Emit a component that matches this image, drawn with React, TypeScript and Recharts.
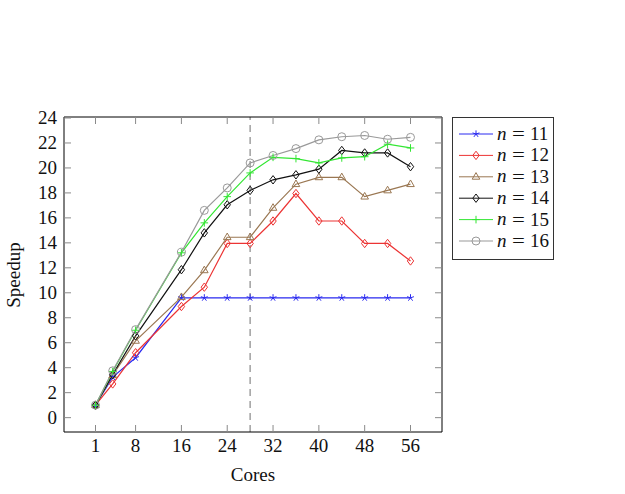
import React from 'react';
import { LineChart, Line, XAxis, YAxis, ReferenceLine } from 'recharts';

// core counts on the x axis
const cores = [1, 4, 8, 16, 20, 24, 28, 32, 36, 40, 44, 48, 52, 56];

// measured speedup per problem size n
const n11 = [1, 3.25, 4.8, 9.6, 9.6, 9.6, 9.6, 9.6, 9.6, 9.6, 9.6, 9.6, 9.6, 9.6];
const n12 = [1, 2.7, 5.2, 8.9, 10.45, 13.95, 13.95, 15.75, 17.95, 15.75, 15.75, 13.95, 13.95, 12.55];
const n13 = [1, 3.4, 6.15, 9.65, 11.8, 14.45, 14.45, 16.8, 18.7, 19.25, 19.25, 17.7, 18.2, 18.7];
const n14 = [1, 3.45, 6.55, 11.85, 14.8, 17.05, 18.2, 19.05, 19.45, 19.9, 21.4, 21.2, 21.2, 20.1];
const n15 = [1, 3.7, 7.0, 13.2, 15.6, 17.7, 19.6, 20.85, 20.75, 20.4, 20.8, 20.9, 21.9, 21.6];
const n16 = [1, 3.75, 7.05, 13.25, 16.6, 18.4, 20.4, 21.0, 21.55, 22.25, 22.5, 22.6, 22.3, 22.45];

const xTicks = [1, 8, 16, 24, 32, 40, 48, 56];
const yTicks = [0, 2, 4, 6, 8, 10, 12, 14, 16, 18, 20, 22, 24];
const xDomain: [number, number] = [-4.5, 61.5];
const yDomain: [number, number] = [-1.15, 24.08];
const splitAt = 28;

type MarkKind = 'star' | 'diamond' | 'triangle' | 'plus' | 'circle';

const series: { key: string; label: string; color: string; mark: MarkKind; values: number[] }[] = [
  { key: 'n11', label: '11', color: '#2a2af0', mark: 'star', values: n11 },
  { key: 'n12', label: '12', color: '#ec3434', mark: 'diamond', values: n12 },
  { key: 'n13', label: '13', color: '#9a7752', mark: 'triangle', values: n13 },
  { key: 'n14', label: '14', color: '#111111', mark: 'diamond', values: n14 },
  { key: 'n15', label: '15', color: '#33e633', mark: 'plus', values: n15 },
  { key: 'n16', label: '16', color: '#999999', mark: 'circle', values: n16 },
];

const data = cores.map((c, i) => {
  const row: Record<string, number> = { cores: c };
  series.forEach((s) => {
    row[s.key] = s.values[i];
  });
  return row;
});

const font = "'Liberation Serif', 'Times New Roman', serif";
const fontSize = 19;
const ink = '#111';
const tickColor = '#8a8a8a';

function Marker({ kind, cx, cy, color }: { kind: MarkKind; cx: number; cy: number; color: string }) {
  const sw = 1;
  if (kind === 'star') {
    const r = 3.6;
    const spokes = [0, 1, 2, 3, 4].map((k) => {
      const a = -Math.PI / 2 + (k * 2 * Math.PI) / 5;
      return <line key={k} x1={cx} y1={cy} x2={cx + r * Math.cos(a)} y2={cy + r * Math.sin(a)} stroke={color} strokeWidth={sw} />;
    });
    return <g>{spokes}</g>;
  }
  if (kind === 'diamond') {
    const pts = `${cx},${cy - 4.2} ${cx + 3.2},${cy} ${cx},${cy + 4.2} ${cx - 3.2},${cy}`;
    return <polygon points={pts} fill="none" stroke={color} strokeWidth={sw} />;
  }
  if (kind === 'triangle') {
    const pts = `${cx},${cy - 4.2} ${cx + 3.8},${cy + 2.4} ${cx - 3.8},${cy + 2.4}`;
    return <polygon points={pts} fill="none" stroke={color} strokeWidth={sw} />;
  }
  if (kind === 'plus') {
    return (
      <g>
        <line x1={cx - 3.8} y1={cy} x2={cx + 3.8} y2={cy} stroke={color} strokeWidth={sw} />
        <line x1={cx} y1={cy - 3.8} x2={cx} y2={cy + 3.8} stroke={color} strokeWidth={sw} />
      </g>
    );
  }
  return <circle cx={cx} cy={cy} r={4} fill="none" stroke={color} strokeWidth={sw} />;
}

const BottomTick = (props: any) => {
  const { x, y, payload } = props;
  return (
    <g>
      <line x1={x} x2={x} y1={y} y2={y - 7} stroke={tickColor} />
      <text x={x} y={y + 19.5} textAnchor="middle" fontFamily={font} fontSize={fontSize} fill={ink}>
        {payload.value}
      </text>
    </g>
  );
};

const TopTick = (props: any) => {
  const { x, y } = props;
  return <line x1={x} x2={x} y1={y} y2={y + 7} stroke={tickColor} />;
};

const LeftTick = (props: any) => {
  const { x, y, payload } = props;
  return (
    <g>
      <line x1={x} x2={x + 7} y1={y} y2={y} stroke={tickColor} />
      <text x={x - 7} y={y + 6} textAnchor="end" fontFamily={font} fontSize={fontSize} fill={ink}>
        {payload.value}
      </text>
    </g>
  );
};

const RightTick = (props: any) => {
  const { x, y } = props;
  return <line x1={x} x2={x - 7} y1={y} y2={y} stroke={tickColor} />;
};

function LegendBox() {
  const rowY = (i: number) => 134 + i * 21.4;
  return (
    <svg width={625} height={494} style={{ position: 'absolute', left: 0, top: 0, pointerEvents: 'none' }}>
      <text
        x={20}
        y={275}
        transform="rotate(-90, 20, 275)"
        textAnchor="middle"
        fontFamily={font}
        fontSize={fontSize}
        fill={ink}
      >
        Speedup
      </text>
      <rect x={452.5} y={117.5} width={101} height={142} fill="#fff" stroke="#333" strokeWidth={1} />
      {series.map((s, i) => {
        const y = rowY(i);
        return (
          <g key={s.key}>
            <line x1={459} x2={493} y1={y} y2={y} stroke={s.color} strokeWidth={1} />
            <Marker kind={s.mark} cx={476} cy={y} color={s.color} />
            <text x={497} y={y + 5.5} fontFamily={font} fontSize={fontSize} fontStyle="italic" fill={ink}>
              n
            </text>
            <text
              x={518.5}
              y={y + 6}
              textAnchor="middle"
              fontFamily={font}
              fontSize={fontSize}
              fill={ink}
              transform={`translate(518.5 0) scale(1.2 1) translate(-518.5 0)`}
            >
              =
            </text>
            <text x={530} y={y + 6} fontFamily={font} fontSize={fontSize} fill={ink}>
              {s.label}
            </text>
          </g>
        );
      })}
    </svg>
  );
}

export default function App() {
  return (
    <div style={{ position: 'absolute', left: 0, top: 0, width: 625, height: 494, background: '#fff' }}>
      <LineChart width={625} height={494} data={data} margin={{ top: 116, right: 182, bottom: 32, left: 24 }}>
        <XAxis
          dataKey="cores"
          type="number"
          domain={xDomain}
          allowDataOverflow
          ticks={xTicks}
          height={30}
          tickSize={0}
          tickMargin={0}
          tickLine={false}
          axisLine={{ stroke: '#000' }}
          tick={BottomTick}
          interval={0}
          label={{ value: 'Cores', position: 'bottom', offset: 6, fontFamily: font, fontSize, fill: ink }}
        />
        <XAxis
          xAxisId="top"
          orientation="top"
          dataKey="cores"
          type="number"
          domain={xDomain}
          allowDataOverflow
          ticks={xTicks}
          height={1}
          tickSize={0}
          tickMargin={0}
          tickLine={false}
          axisLine={{ stroke: '#000' }}
          tick={TopTick}
          interval={0}
        />
        <YAxis
          type="number"
          domain={yDomain}
          allowDataOverflow
          ticks={yTicks}
          width={40}
          tickSize={0}
          tickMargin={0}
          tickLine={false}
          axisLine={{ stroke: '#000' }}
          tick={LeftTick}
          interval={0}
        />
        <YAxis
          yAxisId="right"
          orientation="right"
          type="number"
          domain={yDomain}
          allowDataOverflow
          ticks={yTicks}
          width={1}
          tickSize={0}
          tickMargin={0}
          tickLine={false}
          axisLine={{ stroke: '#000' }}
          tick={RightTick}
          interval={0}
        />
        <ReferenceLine x={splitAt} stroke="#a0a0a0" strokeWidth={1.5} strokeDasharray="7 5" />
        {series.map((s) => (
          <Line
            key={s.key}
            dataKey={s.key}
            type="linear"
            stroke={s.color}
            strokeWidth={1.2}
            isAnimationActive={false}
            activeDot={false}
            dot={(p: any) => <Marker key={`${s.key}-${p.index}`} kind={s.mark} cx={p.cx} cy={p.cy} color={s.color} />}
          />
        ))}
      </LineChart>
      <LegendBox />
    </div>
  );
}
